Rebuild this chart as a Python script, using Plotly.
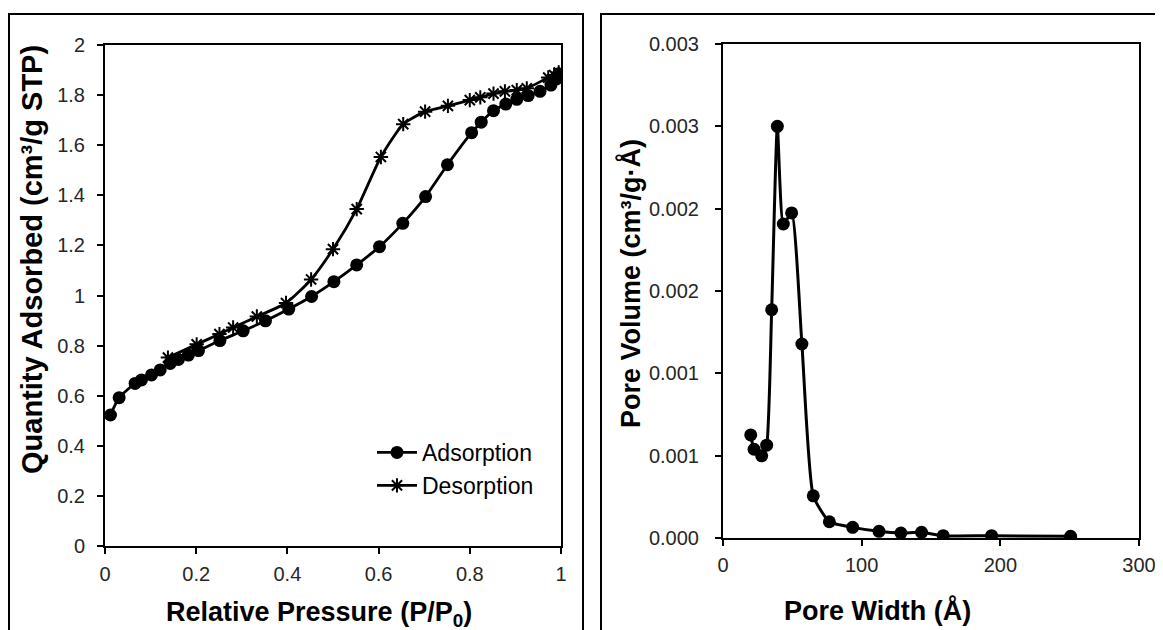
import plotly.graph_objects as go

# ---------------- data ----------------
ads_p = [0.012, 0.031, 0.066, 0.080, 0.102, 0.121, 0.143, 0.161, 0.183, 0.205,
         0.252, 0.303, 0.352, 0.403, 0.453, 0.502, 0.552, 0.602, 0.653, 0.703,
         0.751, 0.804, 0.825, 0.852, 0.879, 0.903, 0.928, 0.954, 0.978, 0.990, 0.995]
ads_q = [0.523, 0.592, 0.649, 0.663, 0.683, 0.703, 0.729, 0.745, 0.762, 0.780,
         0.820, 0.859, 0.899, 0.946, 0.996, 1.055, 1.122, 1.195, 1.288, 1.395,
         1.522, 1.650, 1.692, 1.738, 1.764, 1.783, 1.798, 1.815, 1.840, 1.865, 1.885]

des_p = [0.995, 0.985, 0.972, 0.925, 0.903, 0.877, 0.852, 0.823, 0.800, 0.752,
         0.702, 0.654, 0.605, 0.552, 0.500, 0.452, 0.397, 0.333, 0.281, 0.251,
         0.201, 0.138]
des_q = [1.890, 1.880, 1.870, 1.827, 1.820, 1.815, 1.806, 1.791, 1.780, 1.757,
         1.734, 1.684, 1.553, 1.345, 1.185, 1.064, 0.970, 0.916, 0.872, 0.846,
         0.805, 0.752]

pore_w = [20.0, 22.4, 27.9, 31.5, 35.1, 39.2, 43.5, 49.5, 56.9, 65.1, 76.7, 93.5,
          112.5, 128.3, 143.2, 158.8, 193.7, 250.7]
pore_v = [0.000626, 0.000539, 0.000499, 0.000564, 0.001386, 0.002500, 0.001907,
          0.001974, 0.001178, 0.000256, 0.0000988, 0.0000646, 0.0000404,
          0.0000303, 0.0000343, 0.000014, 0.000014, 0.000010]

left_yticks = [0, 0.2, 0.4, 0.6, 0.8, 1, 1.2, 1.4, 1.6, 1.8, 2]
left_xticks = [0, 0.2, 0.4, 0.6, 0.8, 1]
right_yticks = [0, 0.0005, 0.001, 0.0015, 0.002, 0.0025, 0.003]
right_yticktext = ["0.000", "0.001", "0.001", "0.002", "0.002", "0.003", "0.003"]
right_xticks = [0, 100, 200, 300]

# ---------------- layout helpers ----------------
# the page body adds an 8px margin, so the figure is drawn 8px in from the window edge
OFF = 8
W, H = 1163 - OFF, 630 - OFF
def fx(px):
    return (px - OFF) / W
def fy(py):
    return 1 - (py - OFF) / H

FONT = "Liberation Sans, Arial, sans-serif"
TICKC = "#262626"

fig = go.Figure()

fig.add_trace(go.Scatter(
    x=ads_p, y=ads_q, name="Adsorption", mode="lines+markers",
    line=dict(color="black", width=2.8, shape="spline", smoothing=0.6),
    marker=dict(symbol="circle", size=13, color="black"),
    xaxis="x", yaxis="y"))
fig.add_trace(go.Scatter(
    x=des_p, y=des_q, name="Desorption", mode="lines+markers",
    line=dict(color="black", width=2.8, shape="spline", smoothing=0.6),
    marker=dict(symbol="asterisk-open", size=12, color="black",
                line=dict(color="black", width=2)),
    xaxis="x", yaxis="y"))
fig.add_trace(go.Scatter(
    x=pore_w, y=pore_v, name="PSD", mode="lines+markers", showlegend=False,
    line=dict(color="black", width=3, shape="spline", smoothing=0.5),
    marker=dict(symbol="circle", size=13, color="black"),
    xaxis="x2", yaxis="y2"))

axis_common = dict(
    showgrid=False, zeroline=False, showline=True, linecolor="black",
    linewidth=2, mirror=True, ticks="outside", ticklen=6, tickwidth=2,
    tickcolor="black", tickfont=dict(family=FONT, size=20, color=TICKC),
    automargin=False,
)

fig.update_layout(
    width=W, height=H,
    margin=dict(l=0, r=0, t=0, b=0, autoexpand=False),
    paper_bgcolor="white", plot_bgcolor="white",
    showlegend=True,
    xaxis=dict(domain=[fx(105), fx(561)], range=[0, 1], tickvals=left_xticks,
               anchor="y", ticklabelstandoff=3, **axis_common),
    yaxis=dict(domain=[fy(546), fy(45)], range=[0, 2], tickvals=left_yticks,
               anchor="x", ticklabelstandoff=8, **axis_common),
    xaxis2=dict(domain=[fx(723), fx(1139)], range=[0, 300], tickvals=right_xticks,
                anchor="y2", ticklabelstandoff=2, **axis_common),
    yaxis2=dict(domain=[fy(538), fy(44)], range=[0, 0.003], tickvals=right_yticks,
                ticktext=right_yticktext, anchor="x2", ticklabelstandoff=12,
                **axis_common),
    legend=dict(x=fx(372), y=fy(431), xanchor="left", yanchor="top",
                bgcolor="rgba(0,0,0,0)", font=dict(family=FONT, size=23, color="black"),
                itemwidth=40, tracegroupgap=0),
)

title_font = dict(family=FONT, size=27, color="black")
fig.add_annotation(text="<b>Relative Pressure (P/P<sub>0</sub>)</b>", xref="paper", yref="paper",
                   x=fx(319), y=fy(614), showarrow=False, font=title_font,
                   xanchor="center", yanchor="middle")
fig.add_annotation(text="<b>Quantity Adsorbed (cm³/g STP)</b>", xref="paper", yref="paper",
                   x=fx(32), y=fy(260), showarrow=False,
                   font=dict(family=FONT, size=29, color="black"), textangle=-90,
                   xanchor="center", yanchor="middle")
fig.add_annotation(text="<b>Pore Width (Å)</b>", xref="paper", yref="paper",
                   x=fx(877), y=fy(610), showarrow=False, font=title_font,
                   xanchor="center", yanchor="middle")
fig.add_annotation(text="<b>Pore Volume (cm³/g·Å)</b>", xref="paper", yref="paper",
                   x=fx(630), y=fy(284), showarrow=False, font=title_font, textangle=-90,
                   xanchor="center", yanchor="middle")

# outer chart-area frames
fig.add_shape(type="rect", xref="paper", yref="paper",
              x0=fx(9), x1=fx(583), y0=-0.1, y1=fy(14),
              line=dict(color="black", width=2), fillcolor="rgba(0,0,0,0)", layer="below")
fig.add_shape(type="rect", xref="paper", yref="paper",
              x0=fx(601), x1=1.1, y0=-0.1, y1=fy(14),
              line=dict(color="black", width=2), fillcolor="rgba(0,0,0,0)", layer="below")

fig.write_html("out.html")
